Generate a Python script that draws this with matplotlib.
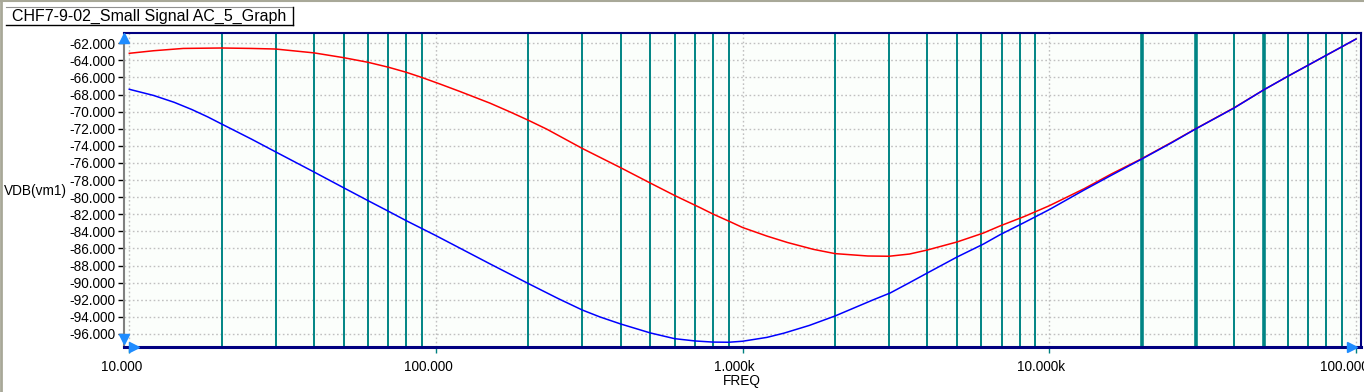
import matplotlib
matplotlib.use('Agg')
import matplotlib.pyplot as plt
import matplotlib.transforms as mtransforms
from matplotlib.lines import Line2D
from matplotlib.ticker import FixedLocator, NullFormatter, LogLocator

# ---------------- data ----------------
title = "CHF7-9-02_Small Signal AC_5_Graph"
y_label = "VDB(vm1)"
x_label = "FREQ"

x_ticks = [10, 100, 1e3, 1e4, 1e5]
x_tick_labels = ["10.000", "100.000", "1.000k", "10.000k", "100.000k"]
y_ticks = list(range(-62, -97, -2))
y_tick_labels = [f"{v:.3f}" for v in y_ticks]
thick_grid_freqs = [20000, 30000, 50000]

red_freq = [10, 12, 15, 20, 25, 30, 40, 50, 60, 70, 80, 90, 103, 120, 150, 175,
            200, 230, 300, 400, 500, 600, 730, 800, 910, 1000, 1200, 1400, 1700,
            2000, 2560, 3000, 3500, 4000, 5000, 6100, 6900, 8300, 10000, 13000,
            16000, 20000, 25000, 30000, 40000, 50000, 60000, 75000, 90000, 100000]
red_db = [-63.17, -62.87, -62.60, -62.55, -62.60, -62.67, -63.12, -63.68, -64.22,
          -64.80, -65.39, -66.00, -66.76, -67.65, -69.00, -70.05, -71.00, -72.05,
          -74.30, -76.55, -78.35, -79.80, -81.26, -81.97, -82.87, -83.55, -84.55,
          -85.30, -86.10, -86.60, -86.88, -86.91, -86.65, -86.18, -85.24, -84.19,
          -83.37, -82.25, -81.00, -79.00, -77.25, -75.50, -73.60, -72.00, -69.55,
          -67.45, -65.85, -63.95, -62.40, -61.50]

blue_freq = [10, 12, 14, 16, 18, 20, 25, 30, 40, 50, 60, 70, 80, 100, 150, 200,
             250, 300, 342, 400, 500, 600, 700, 800, 900, 1000, 1200, 1365, 1650,
             2000, 2660, 3030, 3500, 4000, 5000, 6100, 6900, 8300, 10000, 13000,
             16000, 20000, 25000, 30000, 40000, 50000, 60000, 75000, 90000, 100000]
blue_db = [-67.38, -68.10, -68.90, -69.75, -70.60, -71.44, -73.20, -74.70, -77.05,
           -78.90, -80.40, -81.65, -82.75, -84.50, -87.80, -90.10, -91.85, -93.20,
           -94.00, -94.83, -95.88, -96.55, -96.82, -96.95, -96.97, -96.85, -96.40,
           -95.90, -95.00, -93.90, -92.02, -91.20, -90.00, -88.87, -87.00, -85.48,
           -84.40, -82.95, -81.45, -79.15, -77.40, -75.55, -73.65, -72.02, -69.58,
           -67.45, -65.85, -63.95, -62.40, -61.50]

# ---------------- figure ----------------
W, H, DPI = 1364, 392, 100
fig = plt.figure(figsize=(W / DPI, H / DPI), dpi=DPI, facecolor='white')
plt.rcParams['font.family'] = ['Liberation Sans', 'DejaVu Sans']

def fx(px):
    return px / W

def fy(py):
    return 1 - py / H

ax_l, ax_r, ax_t, ax_b = 124, 1361, 33.3, 347.3
ax = fig.add_axes([fx(ax_l), fy(ax_b), fx(ax_r - ax_l), (ax_b - ax_t) / H])
ax.set_facecolor('#fbfefb')

ax.set_xscale('log')
x_lo = 10 * 10 ** (-5.3 / 306.7)
x_hi = 1e5 * 10 ** (5.0 / 306.7)
ax.set_xlim(x_lo, x_hi)
ax.set_ylim(-97.56, -60.83)

# grids
for v in y_ticks:
    ax.axhline(v, color='#c0c0c0', lw=1.0, ls=(0, (1.2, 1.8)), zorder=1)
for f in x_ticks:
    ax.axvline(f, color='#c0c0c0', lw=1.0, ls=(0, (1.2, 1.8)), zorder=1)
ax.xaxis.set_minor_locator(LogLocator(base=10, subs=[2, 3, 4, 5, 6, 7, 8, 9]))
ax.xaxis.set_minor_formatter(NullFormatter())
ax.grid(which='minor', axis='x', color='#008484', lw=1.4, zorder=1.5)
for f in thick_grid_freqs:
    ax.axvline(f, color='#008484', lw=2.6, zorder=1.6)

# curves
ax.plot(red_freq, red_db, color='#ff0000', lw=1.1, zorder=3)
ax.plot(blue_freq, blue_db, color='#0000ff', lw=1.1, zorder=4)

# ticks
ax.xaxis.set_major_locator(FixedLocator(x_ticks))
ax.set_xticklabels(x_tick_labels)
ax.yaxis.set_major_locator(FixedLocator(y_ticks))
ax.set_yticklabels(y_tick_labels)
ax.tick_params(axis='x', which='major', length=4, width=1, color='#008080',
               direction='out', pad=5.5, labelsize=9.8)
ax.tick_params(axis='x', which='minor', length=0)
ax.tick_params(axis='y', which='major', length=4.5, width=1, color='black',
               direction='out', pad=1.5, labelsize=9.8)
off = mtransforms.ScaledTranslation(-8 / DPI, 0, fig.dpi_scale_trans)
for lab in ax.get_xticklabels():
    lab.set_transform(lab.get_transform() + off)

# spines
ax.spines['left'].set_color('#808080')
ax.spines['left'].set_linewidth(1.5)
ax.spines['top'].set_color('#000080')
ax.spines['top'].set_linewidth(1.5)
ax.spines['right'].set_color('#000080')
ax.spines['right'].set_linewidth(1.5)
ax.spines['bottom'].set_color('#000080')
ax.spines['bottom'].set_linewidth(2.2)

# blue arrow decorations
arrow_c = '#1e8cff'
ax.plot([0], [0.985], marker='^', ms=7.5, color=arrow_c, transform=ax.transAxes,
        clip_on=False, zorder=6)
ax.plot([0], [0.025], marker='v', ms=7.5, color=arrow_c, transform=ax.transAxes,
        clip_on=False, zorder=6)
ax.plot([0.008], [0], marker='>', ms=7.5, color=arrow_c, transform=ax.transAxes,
        clip_on=False, zorder=6)
ax.plot([0.993], [0], marker='>', ms=7.5, color=arrow_c, transform=ax.transAxes,
        clip_on=False, zorder=6)

# axis labels
fig.text(fx(742), fy(381), x_label, ha='center', va='center', fontsize=9.8)
fig.text(fx(35), fy(191), y_label, ha='center', va='center', fontsize=9.8)

# window frame lines
fig.add_artist(Line2D([fx(1), fx(1)], [0, 1], color='#a8a898', lw=2,
                      transform=fig.transFigure))
fig.add_artist(Line2D([0, 1], [fy(0.5), fy(0.5)], color='#a8a898', lw=1.5,
                      transform=fig.transFigure))

# title tab
fig.add_artist(Line2D([fx(6), fx(293)], [fy(7), fy(7)], color='#909090', lw=0.8,
                      transform=fig.transFigure))
fig.add_artist(Line2D([fx(293), fx(293)], [fy(7), fy(25)], color='black', lw=1,
                      transform=fig.transFigure))
fig.add_artist(Line2D([fx(6), fx(293)], [fy(25), fy(25)], color='black', lw=1,
                      transform=fig.transFigure))
fig.text(fx(12), fy(16), title, ha='left', va='center', fontsize=11.5)

fig.savefig('out.png', dpi=DPI, facecolor=fig.get_facecolor())
